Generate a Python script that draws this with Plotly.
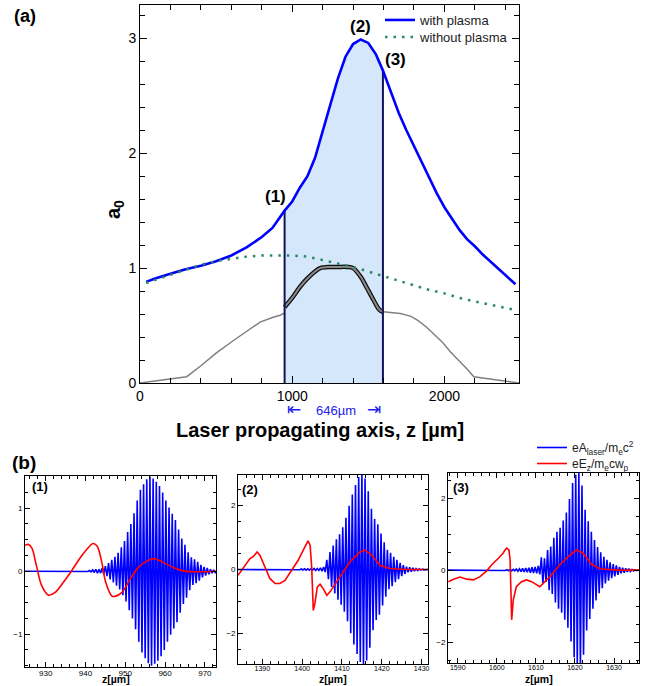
import numpy as np
import plotly.graph_objects as go

W, H = 654, 686
FONT = "Liberation Sans, Arial, Helvetica, sans-serif"

# ---------------- panel (a) data ----------------
z_plasma = [40, 100, 200, 300, 400, 500, 600, 700, 800, 870, 950, 1000, 1050, 1100, 1150, 1200, 1250,
            1300, 1350, 1400, 1450, 1500, 1550, 1596, 1650, 1700, 1750, 1800, 1850, 1900, 1950, 2000,
            2050, 2100, 2150, 2200, 2250, 2300, 2350, 2400, 2467]
a_plasma = [0.88, 0.91, 0.95, 0.99, 1.02, 1.06, 1.11, 1.18, 1.27, 1.35, 1.50, 1.58, 1.70, 1.80, 1.96, 2.18,
            2.42, 2.65, 2.84, 2.95, 2.99, 2.96, 2.86, 2.72, 2.52, 2.35, 2.20, 2.06, 1.92, 1.78, 1.65, 1.53,
            1.43, 1.33, 1.25, 1.19, 1.12, 1.06, 1.00, 0.94, 0.86]

z_vacuum = [40, 150, 300, 400, 500, 600, 700, 800, 900, 1000, 1100, 1200, 1300, 1400, 1500, 1600, 1700,
            1800, 1900, 2000, 2100, 2200, 2300, 2400, 2467]
a_vacuum = [0.87, 0.92, 0.99, 1.03, 1.06, 1.08, 1.10, 1.11, 1.11, 1.11, 1.10, 1.07, 1.04, 1.01, 0.97, 0.93,
            0.89, 0.85, 0.81, 0.78, 0.74, 0.71, 0.68, 0.65, 0.635]

z_dens_left = [0, 307, 400, 500, 614, 700, 789, 870, 921, 950]
n_dens_left = [0.0, 0.055, 0.15, 0.26, 0.37, 0.45, 0.53, 0.57, 0.59, 0.61]
z_dens_right = [1596, 1650, 1711, 1780, 1820, 1880, 1930, 1990, 2040, 2100, 2150, 2193, 2490]
n_dens_right = [0.62, 0.615, 0.605, 0.58, 0.55, 0.49, 0.43, 0.35, 0.27, 0.19, 0.12, 0.055, 0.0]
z_dens_mid = [950, 1000, 1053, 1100, 1150, 1184, 1250, 1300, 1360, 1400, 1447, 1490, 1535, 1565, 1580, 1596]
n_dens_mid = [0.66, 0.74, 0.84, 0.91, 0.97, 1.00, 1.01, 1.01, 1.01, 1.00, 0.93, 0.83, 0.72, 0.65, 0.63, 0.62]

z_start, z_end = 950, 1596          # 646 um window
point_labels = ["(1)", "(2)", "(3)"]

# ---------------- panel (b) data ----------------
# laser carrier: one amplitude per optical cycle (period 0.8 um)
carrier_period = 0.8
b1_start = 940.4
b1_amp = [0.005, 0.01, 0.02, 0.03, 0.03, 0.05, 0.08, 0.13, 0.18, 0.23, 0.29, 0.38, 0.48, 0.62, 0.75, 0.92,
          1.12, 1.29, 1.38, 1.46, 1.50, 1.47, 1.42, 1.35, 1.25, 1.12, 1.01, 0.91, 0.81, 0.66, 0.52, 0.42,
          0.30, 0.22, 0.19, 0.15, 0.10, 0.07, 0.05, 0.03, 0.02]
b1_ez_z = [924.8, 925.6, 926.5, 927.7, 929.0, 930.7, 932.3, 934.4, 936.5, 939.0, 941.1, 941.9, 942.9, 944.1,
           945.1, 946.6, 947.4, 949.1, 951.2, 953.3, 955.4, 957.2, 959.5, 962.1, 964.6, 968.8, 972.8]
b1_ez = [0.41, 0.425, 0.37, 0.08, -0.23, -0.38, -0.34, -0.18, 0.005, 0.24, 0.40, 0.44, 0.40, 0.14, -0.18,
         -0.39, -0.40, -0.34, -0.13, 0.06, 0.16, 0.20, 0.14, 0.06, 0.005, -0.01, 0.0]

b2_start = 1399.2
b2_amp = [0.01, 0.015, 0.02, 0.02, 0.02, 0.03, 0.03, 0.05, 0.08, 0.30, 0.55, 0.75, 0.95, 1.10, 1.32, 1.62,
          2.00, 2.35, 2.65, 2.90, 3.02, 2.85, 2.45, 1.90, 1.58, 1.42, 1.13, 0.85, 0.62, 0.52, 0.40, 0.30,
          0.21, 0.14, 0.09, 0.07, 0.05, 0.03, 0.02, 0.01]
b2_ez_z = [1383.9, 1385.2, 1386.9, 1387.7, 1388.7, 1389.4, 1390.6, 1391.9, 1393.2, 1394.4, 1395.7, 1397.4,
           1399.0, 1400.7, 1401.5, 1402.0, 1402.4, 1402.8, 1403.2, 1403.8, 1404.5, 1405.3, 1406.2, 1407.0,
           1409.5, 1412.0, 1414.5, 1415.8, 1417.5, 1419.5, 1422.0, 1426.2, 1431.6]
b2_ez = [-0.18, 0.03, 0.34, 0.40, 0.55, 0.45, 0.08, -0.28, -0.44, -0.44, -0.34, -0.02, 0.29, 0.71, 0.90,
         0.76, 0.08, -1.28, -1.07, -0.55, -0.46, -0.60, -0.81, -0.70, -0.23, 0.24, 0.55, 0.61, 0.45, 0.13,
         0.03, 0.0, 0.0]

b3_start = 1602.0
b3_amp = [0.01, 0.015, 0.02, 0.02, 0.03, 0.04, 0.05, 0.06, 0.07, 0.08, 0.09, 0.12, 0.36, 0.33, 0.56, 0.66,
          0.90, 1.07, 1.18, 1.38, 1.60, 1.98, 2.42, 2.65, 2.72, 2.35, 1.68, 1.36, 1.07, 0.84, 0.64, 0.50,
          0.37, 0.29, 0.22, 0.17, 0.13, 0.09, 0.07, 0.05, 0.04, 0.02, 0.01]
b3_ez_z = [1587.6, 1588.9, 1590.6, 1592.3, 1594.0, 1595.7, 1597.4, 1598.7, 1600.4, 1601.6, 1602.1, 1602.5,
           1603.1, 1603.4, 1603.6, 1603.8, 1604.2, 1605.0, 1606.3, 1607.6, 1608.9, 1610.2, 1611.0, 1613.6,
           1616.1, 1618.7, 1620.4, 1622.1, 1624.2, 1626.4, 1630.6, 1636.4]
b3_ez = [-0.32, -0.25, -0.19, -0.25, -0.27, -0.18, -0.02, 0.15, 0.33, 0.47, 0.56, 0.61, 0.56, 0.29, -0.55,
         -1.38, -0.83, -0.46, -0.32, -0.27, -0.32, -0.41, -0.46, -0.18, 0.15, 0.42, 0.56, 0.47, 0.17, 0.04,
         0.0, 0.0]

b_ranges_x = [[924.8, 972.8], [1383.9, 1431.6], [1587.5, 1636.4]]
b_ranges_y = [[-1.52, 1.51], [-2.96, 2.96], [-2.58, 2.70]]
b_labels = ["(1)", "(2)", "(3)"]


# ---------------- layout geometry (pixels) ----------------
def fx(p):
    return p / W


def fy(p):
    return 1 - p / H


BLUE = "#0000ff"
RED = "#ff0000"
GREEN = "#2a8a63"

fig = go.Figure()

# shaded region under the with-plasma curve between the two vertical lines
zp = np.array(z_plasma, dtype=float)
ap = np.array(a_plasma, dtype=float)
m = (zp >= z_start) & (zp <= z_end)
fill_x = list(zp[m]) + [z_end, z_start]
fill_y = list(ap[m]) + [0, 0]
fig.add_trace(go.Scatter(x=fill_x, y=fill_y, fill="toself", fillcolor="#d5e7fa", mode="lines",
                         line=dict(width=0), showlegend=False, hoverinfo="skip",
                         xaxis="x", yaxis="y"))

# density profile (thin gray) and its plateau section (thick outlined)
fig.add_trace(go.Scatter(x=z_dens_left, y=n_dens_left, mode="lines", line=dict(color="#808080", width=1.5),
                         showlegend=False, xaxis="x", yaxis="y"))
fig.add_trace(go.Scatter(x=z_dens_right, y=n_dens_right, mode="lines", line=dict(color="#808080", width=1.5),
                         showlegend=False, xaxis="x", yaxis="y"))
fig.add_trace(go.Scatter(x=z_dens_mid, y=n_dens_mid, mode="lines", line=dict(color="#111111", width=4.5),
                         line_shape="spline", showlegend=False, xaxis="x", yaxis="y"))
fig.add_trace(go.Scatter(x=z_dens_mid, y=n_dens_mid, mode="lines", line=dict(color="#8a8a8a", width=2),
                         line_shape="spline", showlegend=False, xaxis="x", yaxis="y"))

# vertical boundary lines
a_at_start = ap[zp == z_start][0]
a_at_end = ap[zp == z_end][0]
for zz, aa in [(z_start, a_at_start), (z_end, a_at_end)]:
    fig.add_trace(go.Scatter(x=[zz, zz], y=[0, aa], mode="lines", line=dict(color="#14145a", width=2),
                             showlegend=False, xaxis="x", yaxis="y"))

# curves
fig.add_trace(go.Scatter(x=z_plasma, y=a_plasma, mode="lines", name="with plasma",
                         line=dict(color=BLUE, width=2.6), legend="legend",
                         xaxis="x", yaxis="y"))
fig.add_trace(go.Scatter(x=z_vacuum, y=a_vacuum, mode="lines", name="without plasma",
                         line=dict(color=GREEN, width=2.5, dash="2.5px,6px"), legend="legend3",
                         xaxis="x", yaxis="y"))


def carrier(start, amps, xr):
    xs, ys = [xr[0]], [0.0]
    for i, a in enumerate(amps):
        c = start + i * carrier_period
        xs += [c - carrier_period / 4, c + carrier_period / 4]
        ys += [a, -a]
    xs.append(xr[1])
    ys.append(0.0)
    return xs, ys


b_sets = [(b1_start, b1_amp, b1_ez_z, b1_ez), (b2_start, b2_amp, b2_ez_z, b2_ez),
          (b3_start, b3_amp, b3_ez_z, b3_ez)]
for k, (st, amps, ezz, ez) in enumerate(b_sets):
    xa = "x%d" % (k + 2)
    ya = "y%d" % (k + 2)
    cx, cy = carrier(st, amps, b_ranges_x[k])
    fig.add_trace(go.Scatter(x=cx, y=cy, mode="lines", line=dict(color=BLUE, width=1.6),
                             name="eA<sub>laser</sub>/m<sub>e</sub>c<sup>2</sup>", legend="legend2",
                             showlegend=(k == 0), xaxis=xa, yaxis=ya))
    fig.add_trace(go.Scatter(x=ezz, y=ez, mode="lines", line=dict(color=RED, width=1.6),
                             line_shape="spline" if k == 0 else "linear",
                             name="eE<sub>z</sub>/m<sub>e</sub>cw<sub>p</sub>", legend="legend4",
                             showlegend=(k == 0), xaxis=xa, yaxis=ya))

axis_common = dict(showline=True, linecolor="black", linewidth=1, mirror="allticks", ticks="inside",
                   tickcolor="black", showgrid=False, zeroline=False, automargin=False)


def leg(x, ytop, size):
    return dict(x=fx(x), y=fy(ytop), xanchor="left", yanchor="top", bgcolor="rgba(0,0,0,0)",
                font=dict(size=size, color="#222"), tracegroupgap=0, itemwidth=30)


layout = dict(
    width=W, height=H, margin=dict(l=0, r=0, t=0, b=0, autoexpand=False),
    paper_bgcolor="white", plot_bgcolor="white",
    font=dict(family=FONT, color="black"),
    xaxis=dict(domain=[fx(140), fx(519)], range=[0, 2490], tickvals=[0, 1000, 2000], ticklen=7,
               minor=dict(dtick=200, ticklen=5, ticks="inside", tickcolor="black"),
               tickfont=dict(size=14, color="black"), anchor="y", **axis_common),
    yaxis=dict(domain=[fy(383), fy(5)], range=[0, 3.29], tickvals=[0, 1, 2, 3], ticklen=7,
               minor=dict(dtick=0.2, ticklen=5, ticks="inside", tickcolor="black"),
               tickfont=dict(size=14, color="black"), anchor="x", **axis_common),
    legend=leg(380, 5, 13),
    legend3=leg(380, 22, 13),
    legend2=leg(532, 433, 12),
    legend4=leg(532, 449, 12),
)

b_dom_x = [[fx(25), fx(216)], [fx(238), fx(428)], [fx(448), fx(639)]]
b_dom_y = [[fy(667), fy(476)], [fy(664), fy(475)], [fy(663), fy(473)]]
b_dticky = [1, 2, 2]
b_minory = [0.25, 0.5, 0.5]
b_tickfs = [8, 7, 7]
for k in range(3):
    n = k + 2
    layout["xaxis%d" % n] = dict(domain=b_dom_x[k], range=b_ranges_x[k], dtick=10, tick0=0, ticklen=5,
                                 minor=dict(dtick=2, ticklen=3, ticks="inside", tickcolor="black"),
                                 anchor="y%d" % n, tickfont=dict(size=b_tickfs[k], color="black"),
                                 ticklabelstandoff=-2, **axis_common)
    layout["yaxis%d" % n] = dict(domain=b_dom_y[k], range=b_ranges_y[k], dtick=b_dticky[k], tick0=0,
                                 ticklen=5, minor=dict(dtick=b_minory[k], ticklen=3, ticks="inside",
                                                       tickcolor="black"),
                                 anchor="x%d" % n, tickfont=dict(size=8, color="black"),
                                 **axis_common)

ann = []


def add_text(txt, x, y, size, bold=True, color="black", angle=0):
    ann.append(dict(text=("<b>%s</b>" % txt) if bold else txt, x=fx(x), y=fy(y), xref="paper",
                    yref="paper", showarrow=False, font=dict(size=size, color=color, family=FONT),
                    xanchor="center", yanchor="middle", textangle=angle))


add_text("(a)", 25, 16, 18)
add_text("(b)", 24, 462, 19)
add_text(point_labels[0], 275, 197, 17)
add_text(point_labels[1], 360, 27, 17)
add_text(point_labels[2], 395, 59, 17)
add_text("a<sub>0</sub>", 114, 210, 20, angle=-90)
add_text("Laser propagating axis, z [µm]", 320, 430, 20)
add_text("646µm", 336, 410, 13, bold=False, color="#2222ee")
add_text("⇤", 294, 409, 17, bold=False, color="#2222ee")
add_text("⇥", 374, 409, 17, bold=False, color="#2222ee")
add_text(b_labels[0], 40, 486, 13)
add_text(b_labels[1], 250, 489, 13)
add_text(b_labels[2], 461, 487, 13)
for cx_ in [116, 333, 539]:
    add_text("z[µm]", cx_, 679, 10.5)

layout["annotations"] = ann
fig.update_layout(**layout)
fig.write_html("out.html", post_script="document.body.style.margin='0px';",
               config={"displayModeBar": False})
